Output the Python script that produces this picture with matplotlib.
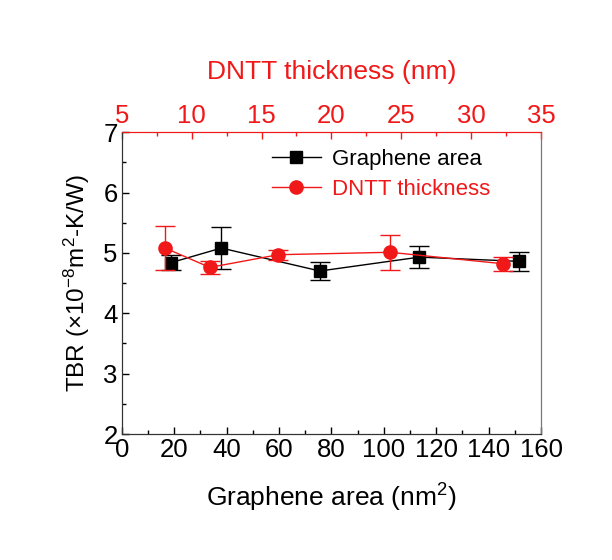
import matplotlib
matplotlib.use("Agg")
import matplotlib.pyplot as plt
from matplotlib.ticker import MultipleLocator
from matplotlib.lines import Line2D

plt.rcParams['font.family'] = ['Liberation Sans', 'DejaVu Sans']
plt.rcParams['mathtext.fontset'] = 'custom'
plt.rcParams['mathtext.rm'] = 'Liberation Sans'
plt.rcParams['mathtext.it'] = 'Liberation Sans'
plt.rcParams['mathtext.default'] = 'regular'

# Graphene area series (bottom axis)
area = [18.9, 38.0, 75.6, 113.6, 151.5]
tbr_area = [4.84, 5.08, 4.70, 4.93, 4.86]
err_area = [0.12, 0.35, 0.15, 0.18, 0.16]

# DNTT thickness series (top axis)
thick = [8.1, 11.3, 16.2, 24.2, 32.3]
tbr_thick = [5.08, 4.76, 4.97, 5.01, 4.82]
err_thick = [0.36, 0.11, 0.08, 0.29, 0.12]

red = '#f01818'
fig = plt.figure(figsize=(6.12, 5.60), dpi=100)
ax = fig.add_axes([0.199, 0.225, 0.685, 0.539])
ax2 = ax.twiny()

ax.errorbar(area, tbr_area, yerr=err_area, color='black', marker='s',
            markersize=8, lw=1, capsize=7, elinewidth=1, capthick=1,
            zorder=3)
ax2.errorbar(thick, tbr_thick, yerr=err_thick, color=red, marker='o',
             markersize=9.5, lw=1, capsize=7, elinewidth=1, capthick=1,
             zorder=3)

ax.set_xlim(0, 160)
ax.set_ylim(2, 7)
ax2.set_xlim(5, 35)

ax.xaxis.set_major_locator(MultipleLocator(20))
ax.xaxis.set_minor_locator(MultipleLocator(10))
ax.yaxis.set_major_locator(MultipleLocator(1))
ax.yaxis.set_minor_locator(MultipleLocator(0.5))
ax2.xaxis.set_major_locator(MultipleLocator(5))
ax2.xaxis.set_minor_locator(MultipleLocator(2.5))

ax.tick_params(axis='both', which='major', direction='in', length=5, width=1,
               labelsize=18.5, pad=3, top=False, right=False)
ax.tick_params(axis='both', which='minor', direction='in', length=3, width=1,
               top=False, right=False)
ax2.tick_params(axis='x', which='major', direction='in', length=5, width=1,
                labelsize=18.5, colors=red, pad=3)
ax2.tick_params(axis='x', which='minor', direction='in', length=3, width=1,
                colors=red)

for a in (ax, ax2):
    a.spines['left'].set_color('#333333')
    a.spines['bottom'].set_color('#333333')
    a.spines['right'].set_color('#777777')
    a.spines['top'].set_color(red)

ax.set_xlabel('Graphene area (nm$^2$)', fontsize=19, labelpad=14)
ax.set_ylabel('TBR ($\\times$10$^{-8}$m$^2$-K/W)', fontsize=17.5, labelpad=8)
ax2.set_xlabel('DNTT thickness (nm)', fontsize=19, color=red, labelpad=18)

h1 = Line2D([], [], color='black', marker='s', markersize=8, lw=1)
h2 = Line2D([], [], color=red, marker='o', markersize=9.5, lw=1)
leg = ax.legend([h1, h2], ['Graphene area', 'DNTT thickness'],
                loc='upper left', bbox_to_anchor=(0.31, 1.01), frameon=False,
                fontsize=16, handlelength=2.2, handletextpad=0.5,
                labelspacing=0.4)
leg.get_texts()[1].set_color(red)
leg.set_zorder(5)

fig.savefig('out.png', dpi=100)
